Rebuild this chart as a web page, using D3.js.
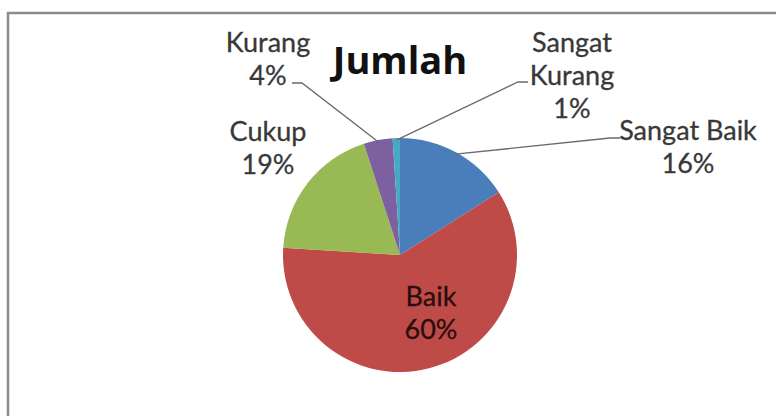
<!DOCTYPE html>
<html>
<head>
<meta charset="utf-8">
<script src="https://cdn.jsdelivr.net/npm/d3@7"></script>
<style>
  html, body { margin: 0; padding: 0; background: #ffffff; }
  svg { display: block; }
</style>
</head>
<body>
<svg id="chart" width="776" height="416"></svg>
<script>
// ---- data ----
const title = "Jumlah";
const categories = ["Sangat Baik", "Baik", "Cukup", "Kurang", "Sangat Kurang"];
const values = [16, 60, 19, 4, 1];
const labelLines = [["Sangat Baik", "16%"], ["Baik", "60%"], ["Cukup", "19%"], ["Kurang", "4%"], ["Sangat", "Kurang", "1%"]];

// ---- style / layout ----
const colors = ["#4a7ebb", "#be4b48", "#98b954", "#7d60a0", "#46aac5"];
const W = 776, H = 416;
const cx = 400, cy = 255, r = 117;
const fontLabel = "Lato, 'Open Sans', sans-serif";
const lineGap = 33;
// label anchor (center x, first baseline y) and leader line (knee, end) per category
const labelLayout = [
  { x: 688, y: 140, knee: [610, 138], end: [620, 138] },
  { x: 431, y: 306, knee: null },
  { x: 268, y: 141, knee: null },
  { x: 268, y: 52, knee: [302, 83], end: [292, 83] },
  { x: 572, y: 52, knee: [518, 82], end: [528, 82] }
];

const svg = d3.select("#chart");

// outer frame
svg.append("rect")
  .attr("x", 8).attr("y", 13)
  .attr("width", W + 20).attr("height", H + 20)
  .attr("fill", "#ffffff")
  .attr("stroke", "#8c8c8c")
  .attr("stroke-width", 2.5);

const pie = d3.pie().sort(null).value(d => d)(values);
const arc = d3.arc().innerRadius(0).outerRadius(r);
const edge = d3.arc().innerRadius(r - 2).outerRadius(r - 2);

const g = svg.append("g").attr("transform", `translate(${cx},${cy})`);
g.selectAll("path.slice")
  .data(pie)
  .join("path")
  .attr("class", "slice")
  .attr("d", arc)
  .attr("fill", (d, i) => colors[i])
  .attr("stroke", "none");

// leader lines
pie.forEach((d, i) => {
  const L = labelLayout[i];
  if (!L.knee) return;
  const p = edge.centroid(d);
  const pts = [[cx + p[0], cy + p[1]], L.knee, L.end];
  svg.append("path")
    .attr("d", d3.line()(pts))
    .attr("fill", "none")
    .attr("stroke", "#6a6a6a")
    .attr("stroke-width", 1.3);
});

// labels
categories.forEach((c, i) => {
  const L = labelLayout[i];
  const t = svg.append("text")
    .attr("text-anchor", "middle")
    .attr("font-family", fontLabel)
    .attr("font-size", 27)
    .attr("fill", i === 1 ? "#2a0d0c" : "#383838")
    .attr("stroke", i === 1 ? "#2a0d0c" : "#383838")
    .attr("stroke-width", 0.3);
  labelLines[i].forEach((line, k) => {
    t.append("tspan").attr("x", L.x).attr("y", L.y + k * lineGap).text(line);
  });
});

// title
svg.append("text")
  .attr("x", 400).attr("y", 74)
  .attr("text-anchor", "middle")
  .attr("font-family", "'Open Sans', sans-serif")
  .attr("font-weight", "bold")
  .attr("font-size", 38)
  .attr("fill", "#111111")
  .text(title);
</script>
</body>
</html>
